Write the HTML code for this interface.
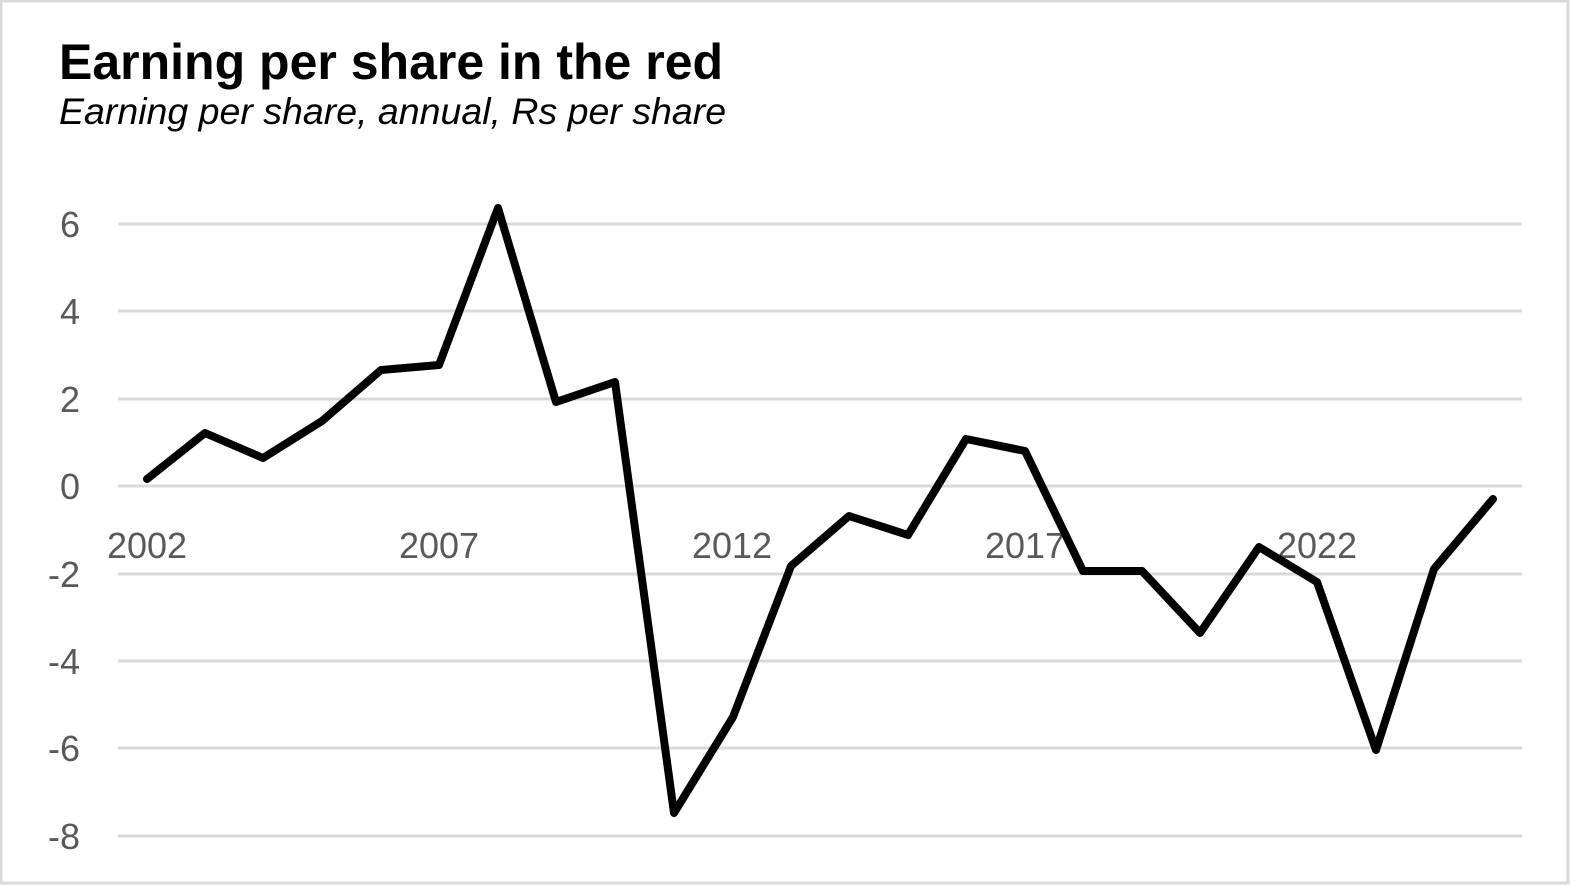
<!DOCTYPE html>
<html><head><meta charset="utf-8"><style>
html,body{margin:0;padding:0;background:#fff;}
svg{display:block;}
</style></head><body>
<svg width="1570" height="885" viewBox="0 0 1570 885" xmlns="http://www.w3.org/2000/svg">
<rect x="1" y="1" width="1567" height="882" fill="#fff" stroke="#d9d9d9" stroke-width="3"/>
<text x="59" y="79" font-family="Liberation Sans, sans-serif" font-weight="bold" font-size="50" fill="#000">Earning per share in the red</text>
<text x="59" y="124" font-family="Liberation Sans, sans-serif" font-style="italic" font-size="37.5" fill="#000">Earning per share, annual, Rs per share</text>
<g stroke="#d9d9d9" stroke-width="3">
<line x1="118" x2="1522" y1="224" y2="224"/>
<line x1="118" x2="1522" y1="311" y2="311"/>
<line x1="118" x2="1522" y1="399" y2="399"/>
<line x1="118" x2="1522" y1="486" y2="486"/>
<line x1="118" x2="1522" y1="574" y2="574"/>
<line x1="118" x2="1522" y1="661" y2="661"/>
<line x1="118" x2="1522" y1="748" y2="748"/>
<line x1="118" x2="1522" y1="836" y2="836"/>
</g>
<g font-family="Liberation Sans, sans-serif" font-size="36" fill="#595959" text-anchor="end">
<text x="80" y="237">6</text>
<text x="80" y="324">4</text>
<text x="80" y="412">2</text>
<text x="80" y="499">0</text>
<text x="80" y="587">-2</text>
<text x="80" y="674">-4</text>
<text x="80" y="761">-6</text>
<text x="80" y="849">-8</text>
</g>
<g font-family="Liberation Sans, sans-serif" font-size="36" fill="#595959" text-anchor="middle">
<text x="147" y="558">2002</text>
<text x="439" y="558">2007</text>
<text x="732" y="558">2012</text>
<text x="1025" y="558">2017</text>
<text x="1317" y="558">2022</text>
</g>
<polyline fill="none" stroke="#000" stroke-width="8" stroke-linejoin="round" stroke-linecap="round"
points="147,479 205,433 263,458 322,421 381,370 439,365 498,208 556,402 615,382 674,813 733,717 791,566 849,516 908,535 966,439 1025,451 1083,571 1142,571 1200,633 1259,547 1317,582 1376,750 1434,569 1493,499"/>
</svg>
</body></html>
